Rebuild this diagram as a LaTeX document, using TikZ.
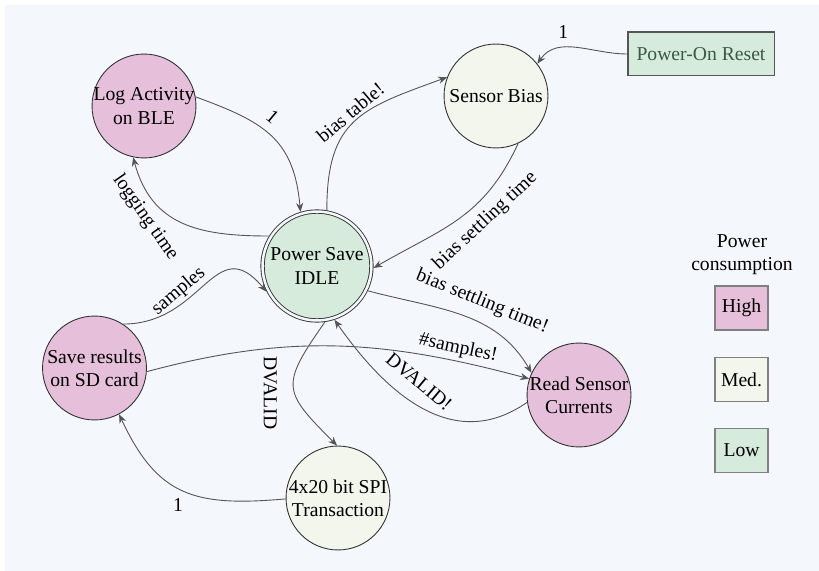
\documentclass[tikz,border=0pt]{standalone}
\usepackage{fontspec}
\setmainfont{Liberation Serif}
\usetikzlibrary{arrows.meta}

\definecolor{bgcol}{HTML}{F4F7FC}
\definecolor{hicol}{HTML}{E6C0DA}
\definecolor{medcol}{HTML}{F2F6EC}
\definecolor{locol}{HTML}{D6EBDB}
\definecolor{edgecol}{HTML}{555555}
\definecolor{rimcol}{HTML}{333333}
\definecolor{portext}{HTML}{3A5A45}

\begin{document}
\begin{tikzpicture}[x=0.56pt,y=-0.56pt,
  every node/.style={font=\fontsize{11}{13}\selectfont},
  state/.style={circle, draw=rimcol, line width=0.5pt, minimum size=58.2pt,
    inner sep=-4pt, align=center},
  highstate/.style={state, fill=hicol},
  medstate/.style={state, fill=medcol},
  lowstate/.style={state, fill=locol},
  idlestate/.style={state, fill=locol, minimum size=61pt, double=bgcol,
    double distance=1.4pt, outer sep=1.2pt},
  trans/.style={-{Stealth[length=5pt,width=4pt]}, draw=edgecol, line width=0.5pt},
  lbl/.style={inner sep=1pt},
  keybox/.style={draw=gray, line width=0.7pt, minimum width=29.7pt,
    minimum height=24.6pt, inner sep=0pt}
]
\useasboundingbox (0,0) rectangle (819,571);
\fill[bgcol] (5,5) rectangle (819,571);

% states
\node[highstate] (log)  at (144,106)  {Log Activity\\on BLE};
\node[medstate]  (bias) at (496,96)   {Sensor Bias};
\node[draw=edgecol, line width=0.6pt, fill=locol, text=portext,
  minimum width=81.8pt, minimum height=24.6pt, inner sep=0pt]
                 (por)  at (701,54)   {Power-On Reset};
\node[idlestate] (idle) at (317,266)  {Power Save\\IDLE};
\node[highstate] (sd)   at (94.5,368) {Save results\\on SD card};
\node[medstate]  (spi)  at (338,498)  {4x20 bit SPI\\Transaction};
\node[highstate] (read) at (579,395)  {Read Sensor\\Currents};

% legend
\node[align=center] (legtitle) at (742,255) {Power\\consumption};
\node[keybox, fill=hicol]  (khigh) at (741.5,308)   {High};
\node[keybox, fill=medcol] (kmed)  at (741.5,379.5) {Med.};
\node[keybox, fill=locol]  (klow)  at (741.5,450.5) {Low};

% transitions
\draw[trans] (por.west) to[out=180, in=55]
  node[lbl, pos=0.65, above=4pt] {1} (bias.38);
\draw[trans] (log.10) to[out=-20, in=95, looseness=1.2]
  node[lbl, pos=0.45, xshift=3.6pt, yshift=8.2pt, rotate=-40] {1} (idle.107);
\draw[trans] (idle.148) to[out=180, in=-75, looseness=1.15]
  node[lbl, pos=0.7, xshift=-6.6pt, yshift=-7.3pt, rotate=-55] {logging time} (log.-102);
\draw[trans] (idle.80) to[out=90, in=200, looseness=1.3]
  node[lbl, pos=0.45, xshift=0.6pt, yshift=8.2pt, rotate=40] {bias table!} (bias.159);
\draw[trans] (bias.-65) to[out=-115, in=30, looseness=1.1]
  node[lbl, pos=0.4, xshift=7pt, yshift=-7.5pt, rotate=43] {bias settling time} (idle.-2);
\draw[trans] (idle.-26) to[out=-15, in=120]
  node[lbl, pos=0.6, xshift=2.1pt, yshift=11.5pt, rotate=-22] {bias settling time!} (read.155);
\draw[trans] (sd.-4) to[out=15, in=165]
  node[lbl, pos=0.82, sloped, above=1pt] {\#samples!} (read.162);
\draw[trans] (read.188) to[out=215, in=-55, looseness=1.1]
  node[lbl, pos=0.55, xshift=3.5pt, yshift=11.5pt, rotate=-40] {DVALID!} (idle.-72);
\draw[trans] (sd.57) to[out=0, in=130, looseness=1.4]
  node[lbl, pos=0.35, xshift=-4.5pt, yshift=5pt, rotate=40] {samples} (idle.207);
\draw[trans] (idle.-82) to[out=-125, in=135, looseness=1.6]
  node[lbl, pos=0.5, xshift=-13.2pt, yshift=-3.4pt, rotate=-90] {DVALID} (spi.91);
\draw[trans] (spi.181) to[out=185, in=-65, looseness=1.25]
  node[lbl, pos=0.45, xshift=-7pt, yshift=-6.2pt] {1} (sd.-62);
\end{tikzpicture}
\end{document}
